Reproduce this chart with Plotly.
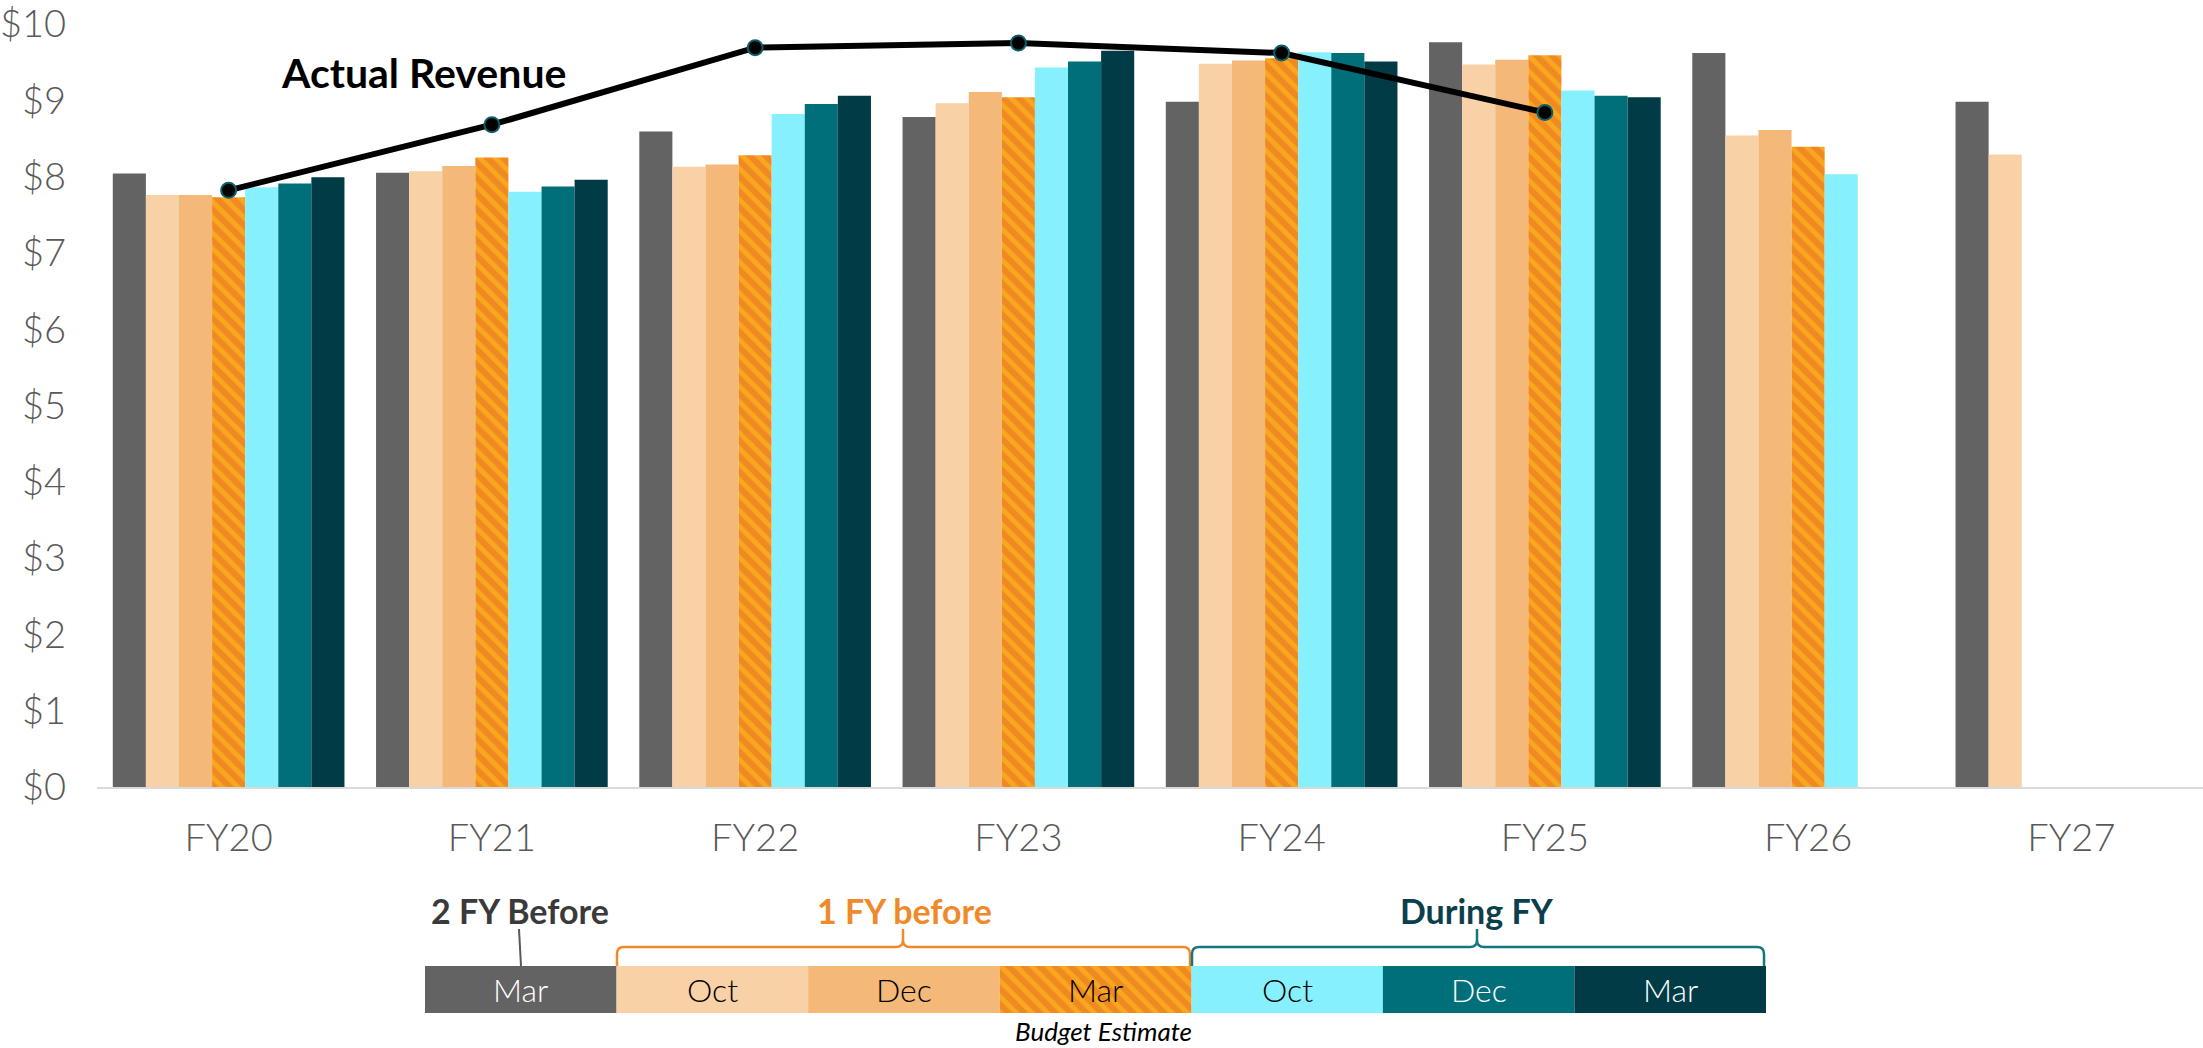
import plotly.graph_objects as go

# ---------------- data ----------------
categories = ["FY20", "FY21", "FY22", "FY23", "FY24", "FY25", "FY26", "FY27"]
mar_2fy_before = [8.04, 8.05, 8.59, 8.78, 8.98, 9.76, 9.62, 8.98]
oct_1fy_before = [7.76, 8.07, 8.13, 8.96, 9.48, 9.47, 8.54, 8.29]
dec_1fy_before = [7.76, 8.14, 8.16, 9.11, 9.52, 9.53, 8.61, None]
mar_1fy_before = [7.73, 8.25, 8.28, 9.04, 9.55, 9.59, 8.39, None]
oct_during = [7.86, 7.80, 8.82, 9.43, 9.63, 9.13, 8.03, None]
dec_during = [7.91, 7.87, 8.95, 9.51, 9.62, 9.06, None, None]
mar_during = [7.99, 7.96, 9.06, 9.65, 9.51, 9.04, None, None]
actual_revenue = [7.82, 8.68, 9.69, 9.75, 9.62, 8.84, None, None]

y_tick_vals = list(range(0, 11))
y_tick_text = [f"${v}" for v in y_tick_vals]
legend_labels = ["Mar", "Oct", "Dec", "Mar", "Oct", "Dec", "Mar"]

# ---------------- styles ----------------
W, H = 2203, 1048
C_GRAY = "#646363"
C_LPEACH = "#F8D1A6"
C_PEACH = "#F4B878"
C_ORANGE = "#EF8A22"
C_STRIPE = "#F9A71E"
C_CYAN = "#87F0FE"
C_TEAL = "#006F7A"
C_DARK = "#013C46"
TXT = "#595959"
FONT = "Lato"

HATCH = dict(shape="\\", fgcolor=C_STRIPE, bgcolor=C_ORANGE, size=11,
             solidity=0.45, fillmode="replace")

series = [
    (mar_2fy_before, C_GRAY, False),
    (oct_1fy_before, C_LPEACH, False),
    (dec_1fy_before, C_PEACH, False),
    (mar_1fy_before, C_ORANGE, True),
    (oct_during, C_CYAN, False),
    (dec_during, C_TEAL, False),
    (mar_during, C_DARK, False),
]


def px(x):
    return x / W


def py(y):
    return 1 - y / H


fig = go.Figure()

for vals, col, hatched in series:
    marker = dict(color=col, line=dict(width=0))
    if hatched:
        marker["pattern"] = HATCH
    fig.add_trace(go.Bar(x=categories, y=vals, marker=marker, hoverinfo="skip"))

fig.add_trace(go.Scatter(
    x=categories, y=actual_revenue, mode="lines+markers",
    line=dict(color="black", width=6),
    marker=dict(color="black", size=15, line=dict(color="#0B5F6A", width=2)),
    hoverinfo="skip"))

# legend strip: bars on their own axes
leg_pos = list(range(7))
leg_colors = [C_GRAY, C_LPEACH, C_PEACH, C_ORANGE, C_CYAN, C_TEAL, C_DARK]
solid_idx = [0, 1, 2, 4, 5, 6]
fig.add_trace(go.Bar(
    x=[leg_pos[i] for i in solid_idx], y=[1] * len(solid_idx),
    width=[1] * len(solid_idx), offset=-0.5, xaxis="x2", yaxis="y2",
    marker=dict(color=[leg_colors[i] for i in solid_idx], line=dict(width=0)),
    hoverinfo="skip"))
fig.add_trace(go.Bar(
    x=[leg_pos[3]], y=[1], width=[1], offset=-0.5, xaxis="x2", yaxis="y2",
    marker=dict(color=C_ORANGE, line=dict(width=0), pattern=HATCH),
    hoverinfo="skip"))

leg_text_colors = ["white", "black", "black", "black", "black", "white", "white"]
annotations = []
for i, (lab, tc) in enumerate(zip(legend_labels, leg_text_colors)):
    annotations.append(dict(x=i, y=0.5, xref="x2", yref="y2", text=lab, showarrow=False,
                            xanchor="center", yanchor="middle",
                            font=dict(family=FONT, size=32, color=tc, weight=300)))


def ann(x, y, text, size, color, weight="normal"):
    return dict(x=px(x), y=py(y), xref="paper", yref="paper", text=text,
                showarrow=False, xanchor="center", yanchor="middle",
                font=dict(family=FONT, size=size, color=color, weight=weight))


annotations += [
    ann(423, 72, "<b>Actual Revenue</b>", 41, "black"),
    ann(520, 910, "<b>2 FY Before</b>", 34, "#3A3A3A"),
    ann(904, 910, "<b>1 FY before</b>", 34, "#F0892A"),
    ann(1477, 910, "<b>During FY</b>", 34, "#0C3F4C"),
    ann(1103, 1031, "<i>Budget Estimate</i>", 26, "black", "normal"),
]


def bracket(x0, x1, xm, ybot=966, ytop=947, ynotch=929, r=7):
    pts = [
        ("M", x0, ybot), ("L", x0, ytop + r), ("Q", x0, ytop, x0 + r, ytop),
        ("L", xm - r, ytop), ("Q", xm, ytop, xm, ytop - r), ("L", xm, ynotch),
        ("L", xm, ytop - r), ("Q", xm, ytop, xm + r, ytop),
        ("L", x1 - r, ytop), ("Q", x1, ytop, x1, ytop + r), ("L", x1, ybot),
    ]
    out = []
    for p in pts:
        cmd = p[0]
        coords = p[1:]
        s = " ".join(f"{px(coords[i]):.5f},{py(coords[i + 1]):.5f}" for i in range(0, len(coords), 2))
        out.append(f"{cmd} {s}")
    return " ".join(out)


shapes = [
    dict(type="path", xref="paper", yref="paper", path=bracket(617, 1190, 903),
         line=dict(color="#F0892A", width=2.5)),
    dict(type="path", xref="paper", yref="paper", path=bracket(1192, 1764, 1477),
         line=dict(color="#177580", width=2.5)),
    dict(type="line", xref="paper", yref="paper", x0=px(519), y0=py(929), x1=px(521), y1=py(966),
         line=dict(color="#595959", width=2)),
]

fig.update_layout(
    width=W, height=H, autosize=False,
    margin=dict(l=0, r=0, t=0, b=0),
    paper_bgcolor="white", plot_bgcolor="white",
    barmode="group", bargap=0.12, bargroupgap=0,
    showlegend=False,
    font=dict(family=FONT, color=TXT),
    xaxis=dict(domain=[px(97), 1], type="category", range=[-0.5, 7.5],
               showline=True, linecolor="#D9D9D9", linewidth=2, showgrid=False,
               ticks="", tickfont=dict(family=FONT, size=38, color=TXT, weight=300),
               ticklabelstandoff=16, automargin=False, fixedrange=True),
    yaxis=dict(domain=[py(787), py(24)], range=[0, 10], tickmode="array",
               tickvals=y_tick_vals, ticktext=y_tick_text, ticklabeloverflow="allow",
               showgrid=False, zeroline=False, showline=False, ticks="",
               tickfont=dict(family=FONT, size=38, color=TXT, weight=300),
               ticklabelstandoff=30, automargin=False, fixedrange=True),
    xaxis2=dict(domain=[px(425), px(1766)], range=[-0.5, 6.5], visible=False,
                anchor="y2", fixedrange=True),
    yaxis2=dict(domain=[py(1013), py(966)], range=[0, 1], visible=False,
                anchor="x2", fixedrange=True),
    annotations=annotations,
    shapes=shapes,
)

fig.write_html("out.html", config={"displayModeBar": False},
               post_script="document.body.style.margin='0';")
